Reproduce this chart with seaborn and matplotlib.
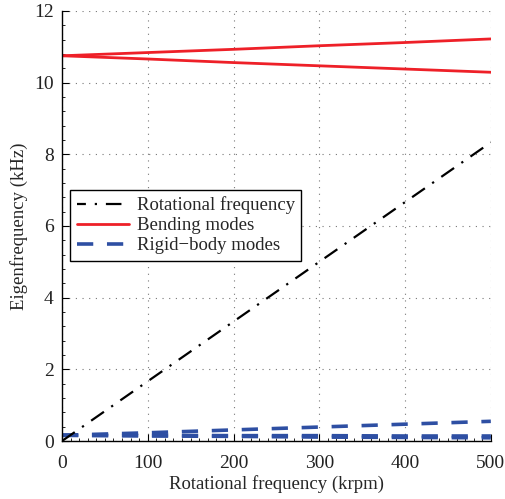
import numpy as np
import pandas as pd
import matplotlib
matplotlib.use("Agg")
import matplotlib.pyplot as plt
import seaborn as sns
from matplotlib.ticker import MultipleLocator
from matplotlib.lines import Line2D

speed = [0, 100, 200, 300, 400, 500]
rot_freq = [0.0, 1.667, 3.333, 5.0, 6.667, 8.333]
bend_fw = [10.75, 10.84, 10.93, 11.03, 11.12, 11.22]
bend_bw = [10.75, 10.66, 10.56, 10.47, 10.38, 10.29]
rigid_fw = [0.16, 0.23, 0.31, 0.39, 0.47, 0.55]
rigid_a = [0.16, 0.16, 0.15, 0.15, 0.14, 0.14]
rigid_b = [0.16, 0.14, 0.13, 0.11, 0.10, 0.09]

sns.set_theme(style="white")
plt.rcParams['font.family'] = ['Liberation Serif', 'DejaVu Serif']

fig = plt.figure(figsize=(5.06, 4.99), dpi=100)
ax = fig.add_axes([0.1225, 0.1162, 0.970 - 0.1225, 0.978 - 0.1162])

blue = '#2e4fa3'
red = '#ee2028'
dashdot = (0, (7, 4, 1, 4))
dashed = (0, (4.5, 3.8))

for ys in (rigid_a, rigid_b, rigid_fw):
    sns.lineplot(x=speed, y=ys, ax=ax, color=blue, lw=2.6, linestyle=dashed)
for ys in (bend_fw, bend_bw):
    sns.lineplot(x=speed, y=ys, ax=ax, color=red, lw=2.0)
sns.lineplot(x=speed, y=rot_freq, ax=ax, color='black', lw=1.6, linestyle=dashdot)

handles = [
    Line2D([], [], color='black', lw=1.6, linestyle=(3, (7, 4, 1, 4))),
    Line2D([], [], color=red, lw=2.0),
    Line2D([], [], color=blue, lw=2.6, linestyle=dashed),
]
labels = ['Rotational frequency', 'Bending modes', 'Rigid\u2212body modes']
leg = ax.legend(handles, labels, loc='upper left', bbox_to_anchor=(0.019, 0.584),
                borderaxespad=0, fontsize=13.5, handlelength=2.8, frameon=True,
                fancybox=False, edgecolor='black', framealpha=1,
                labelspacing=0.15, borderpad=0.35, handletextpad=0.4)
leg.get_frame().set_linewidth(1.0)

ax.set_xlim(0, 500)
ax.set_ylim(0, 12)
ax.xaxis.set_major_locator(MultipleLocator(100))
ax.yaxis.set_major_locator(MultipleLocator(2))
ax.xaxis.set_minor_locator(MultipleLocator(10))
ax.yaxis.set_minor_locator(MultipleLocator(0.4))
ax.tick_params(which='major', direction='in', length=5, width=0.8, colors='black',
               labelsize=14, left=True, bottom=True)
ax.tick_params(axis='x', which='major', pad=10)
ax.tick_params(axis='y', which='major', pad=6)
ax.tick_params(which='minor', direction='in', length=2.5, width=0.6, colors='black',
               left=True, bottom=True)
for lbl in ax.get_xticklabels() + ax.get_yticklabels():
    lbl.set_color('#222222')
ax.grid(True, which='major', color='#777777', linestyle=(0, (1, 5)), lw=0.8)
for s in ['top', 'right']:
    ax.spines[s].set_visible(False)
for s in ['left', 'bottom']:
    ax.spines[s].set_color('black')
    ax.spines[s].set_linewidth(1.0)
ax.set_xlabel('Rotational frequency (krpm)', fontsize=13.5, labelpad=2)
ax.set_ylabel('Eigenfrequency (kHz)', fontsize=13.5, labelpad=4)

fig.savefig('out.png', dpi=100)
